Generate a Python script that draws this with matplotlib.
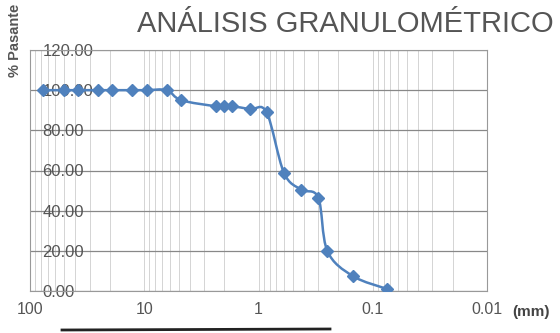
import numpy as np
import matplotlib.pyplot as plt
from matplotlib.path import Path
from matplotlib.patches import PathPatch
from matplotlib.lines import Line2D
from matplotlib.ticker import FixedLocator, NullFormatter

plt.rcParams['font.family'] = ['Liberation Sans', 'DejaVu Sans']

# Tamiz (mm) y % que pasa
abertura = [76.2, 50.8, 38.1, 25.4, 19.05, 12.7, 9.525, 6.35, 4.75,
            2.36, 2.0, 1.7, 1.18, 0.85, 0.6, 0.425, 0.3, 0.25, 0.15, 0.075]
pasante = [100.0, 100.0, 100.0, 100.0, 100.0, 100.0, 100.0, 100.0, 95.0,
           92.0, 92.0, 92.0, 90.5, 89.0, 59.0, 50.5, 46.5, 20.0, 7.5, 1.0]
yticks = [0, 20, 40, 60, 80, 100, 120]
xticks = [100, 10, 1, 0.1, 0.01]
xlabels = ['100', '10', '1', '0.1', '0.01']

blue = '#4F81BD'
gray = '#555555'

fig = plt.figure(figsize=(5.6, 3.33), dpi=100)
ax = fig.add_axes([30/560, 1-291/333, 457/560, 241/333])

# smooth line (Excel-style), bezier through the points in log-x space
lx = np.log10(abertura)
py = np.array(pasante)
pts = np.column_stack([lx, py])
verts = [pts[0]]
codes = [Path.MOVETO]
t = 1/6
for i in range(len(pts)-1):
    p0 = pts[max(i-1, 0)]
    p1 = pts[i]
    p2 = pts[i+1]
    p3 = pts[min(i+2, len(pts)-1)]
    c1 = p1 + (p2 - p0)*t
    c2 = p2 - (p3 - p1)*t
    verts += [c1, c2, p2]
    codes += [Path.CURVE4]*3
verts = np.array(verts)
verts[:, 0] = 10**verts[:, 0]
ax.add_patch(PathPatch(Path(verts, codes), fill=False, edgecolor=blue, lw=1.8, zorder=3))
ax.plot(abertura, pasante, ls='none', marker='D', ms=6, color=blue, zorder=4)

ax.set_xscale('log')
ax.set_xlim(100, 0.01)
ax.set_ylim(0, 120)
ax.set_xticks(xticks)
ax.set_xticklabels(xlabels)
minors = [m*10.0**e for e in range(-2, 2) for m in range(2, 10)]
ax.xaxis.set_minor_locator(FixedLocator(minors))
ax.xaxis.set_minor_formatter(NullFormatter())
ax.set_yticks(yticks)
ax.set_yticklabels(['%.2f' % v for v in yticks])

ax.grid(axis='y', color='#888888', lw=0.9)
ax.grid(axis='x', which='both', color='#d4d4d4', lw=0.7)
ax.set_axisbelow(True)
for s in ax.spines.values():
    s.set_color('#999999')
ax.tick_params(axis='x', length=0, labelsize=11.5, labelcolor=gray, pad=8)
ax.tick_params(axis='x', which='minor', length=0)
ax.tick_params(axis='y', direction='in', length=0, labelsize=12, labelcolor=gray, pad=-9)
for lab in ax.get_yticklabels():
    lab.set_horizontalalignment('left')

fig.text(345/560, 1-24/333, 'ANÁLISIS GRANULOMÉTRICO', ha='center', va='center',
         fontsize=21, color=gray)
fig.text(15/560, 1-40/333, '% Pasante', rotation=90, ha='center', va='center',
         fontsize=10.5, fontweight='bold', color=gray)
fig.text(531/560, 1-312/333, '(mm)', ha='center', va='center',
         fontsize=11, fontweight='bold', color='#444444')
fig.add_artist(Line2D([62/560, 330/560], [1-330/333, 1-329/333], color='#222222', lw=2))

plt.savefig('out.png')
